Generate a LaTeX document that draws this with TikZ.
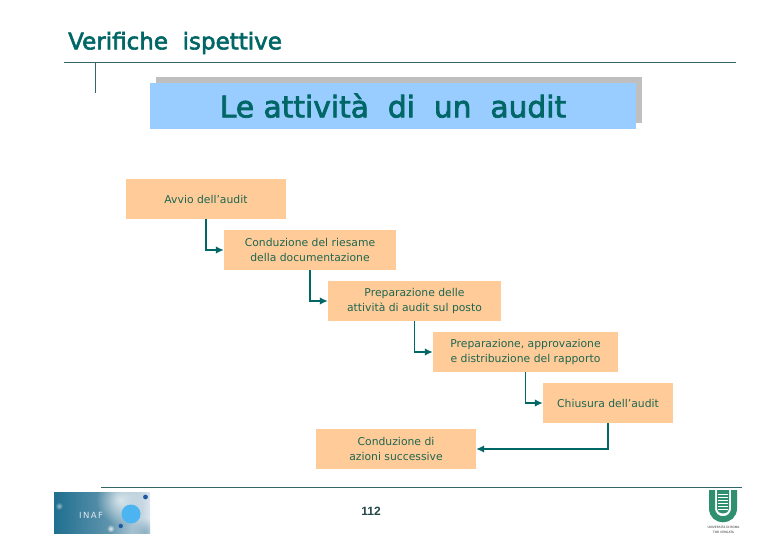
\documentclass[tikz,border=0pt]{standalone}
\usepackage{fontspec}
\setmainfont{DejaVu Sans}
\newfontfamily\pagefont{Liberation Sans}
\newfontfamily\heavyfont[FakeBold=2.5]{DejaVu Sans}
\usetikzlibrary{arrows.meta,shapes.geometric,fadings}
\definecolor{ink}{HTML}{006666}
\definecolor{stageink}{HTML}{1F6650}
\definecolor{rule}{HTML}{336666}
\definecolor{boxfill}{HTML}{FFCC99}
\definecolor{titlefill}{HTML}{99CCFF}
\definecolor{shadowgray}{HTML}{BFBFBF}
\definecolor{shieldgreen}{HTML}{2F8F6F}
\definecolor{logoleft}{HTML}{1F6F90}
\definecolor{logomid}{HTML}{5E93AC}
\definecolor{logoright}{HTML}{DDE6EE}
\definecolor{logoball}{HTML}{4DB4F2}
\definecolor{logostar}{HTML}{1F5AA0}
\tikzfading[name=glow,inner color=transparent!0,outer color=transparent!100]
\tikzset{
  x=1pt,y=-1pt,
  stage/.style={fill=boxfill,draw=none,inner sep=0pt,text=stageink,align=center,minimum height=40pt,font=\fontsize{10.8}{15}\selectfont},
  flow/.style={draw=ink,line width=1.5pt,-{Latex[length=8pt,width=7.5pt]}},
  rulel/.style={draw=rule,line width=0.8pt}
}
\begin{document}
\begin{tikzpicture}
\useasboundingbox (0,0) rectangle (780,540);
\fill[white] (0,0) rectangle (780,540);
% header
\node[anchor=west,inner sep=0pt,text=ink,font=\fontsize{23}{26}\heavyfont] (head) at (68,43) {Verifiche\ \ ispettive};
\coordinate (ruleL) at (64,62); \coordinate (ruleR) at (736,62);
\draw[rulel] (ruleL) -- (ruleR);
\coordinate (tickT) at (95,62); \coordinate (tickB) at (95,93);
\draw[rulel] (tickT) -- (tickB);
% title
\fill[shadowgray] (156,77) rectangle (642,123);
\node[fill=titlefill,minimum width=486pt,minimum height=46pt,inner sep=0pt,text=ink,font=\fontsize{29.7}{32}\heavyfont] (title) at (393,106) {\raisebox{1pt}{Le attività\ \ di\ \ un\ \ audit}};
% stages
\node[stage,minimum width=160pt] (a) at (206,199) {Avvio dell'audit};
\node[stage,minimum width=172pt] (b) at (310,250) {Conduzione del riesame\\della documentazione};
\node[stage,minimum width=173pt] (c) at (414.5,301) {Preparazione delle\\attività di audit sul posto};
\node[stage,minimum width=185pt] (d) at (525.5,352) {Preparazione, approvazione\\e distribuzione del rapporto};
\node[stage,minimum width=130pt] (e) at (608,403) {Chiusura dell'audit};
\node[stage,minimum width=160pt] (f) at (396,449) {Conduzione di\\azioni successive};
\draw[flow] (a.south) |- (b.west);
\draw[flow] (b.south) |- (c.west);
\draw[flow] (c.south) |- (d.west);
\draw[flow] (d.south) |- (e.west);
\draw[flow] (e.south) |- (f.east);
% footer
\coordinate (footL) at (101,487); \coordinate (footR) at (742,487);
\draw[rulel] (footL) -- (footR);
\node[inner sep=0pt,font=\fontsize{12}{14}\pagefont\bfseries,text=rule!70!black] (pg) at (371,511) {112};
% INAF logo
\shade[left color=logoleft,right color=logomid] (54,492) rectangle (108,533);
\shade[left color=logomid,right color=logoright] (108,492) rectangle (150,533);
\begin{scope}
\clip (54,492) rectangle (150,533);
\fill[white,opacity=.7,path fading=glow] (120,500) circle (24);
\fill[logomid,opacity=.6,path fading=glow] (145,532) circle (14);
\fill[white,opacity=.8,path fading=glow] (110.5,528.5) circle (4);
\fill[white,opacity=.5,path fading=glow] (59,506) circle (4);
\end{scope}
\fill[logoball] (131,514) circle (9.5);
\fill[logostar] (120.7,526) circle (2.2);
\fill[logostar] (145.5,497) circle (2.4);
\node[inner sep=0pt,text=white!80!logomid,font=\fontsize{8.5}{9}\selectfont] (inaf) at (91,515) {I\,N\,A\,F};
% shield logo
\draw[shieldgreen,line width=6pt] (712,490) -- (712,508) .. controls (712,523) and (734,523) .. (734,508) -- (734,490);
\fill[shieldgreen] (717,490) -- (729,490) -- (729,509) .. controls (729,515) and (717,515) .. (717,509) -- cycle;
\foreach \yy in {494.5,497.5,...,510.5} \draw[white,line width=.8pt] (718,\yy) -- (728,\yy);
\node[inner sep=0pt,align=center,text=black!80,font=\fontsize{3}{5}\selectfont] (uni) at (723.5,530) {UNIVERSITÀ DI ROMA\\TOR VERGATA};
\end{tikzpicture}
\end{document}
